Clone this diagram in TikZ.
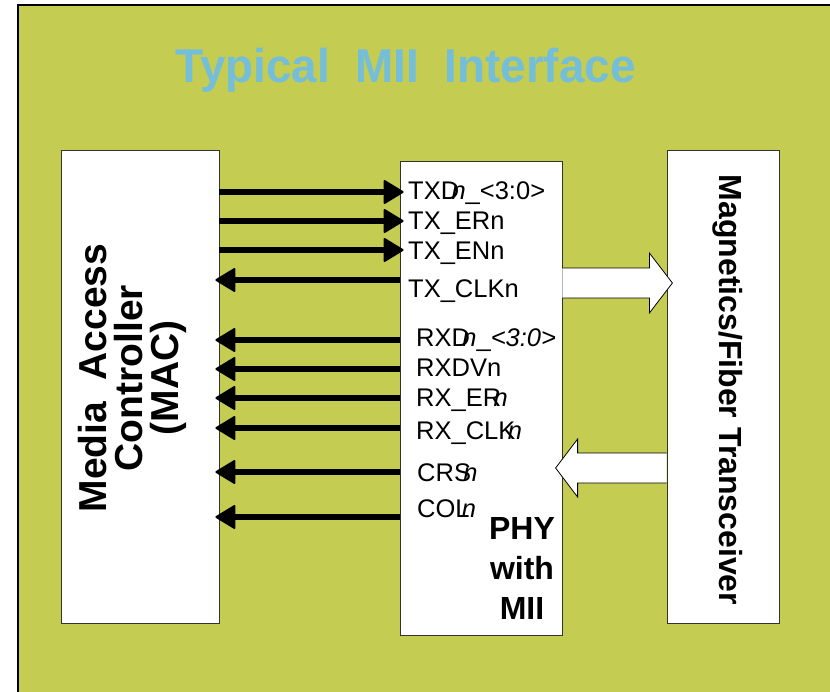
\documentclass[tikz,border=0pt]{standalone}
\usepackage{fontspec}
\setmainfont{Liberation Sans}
\newfontfamily\titlefont[FakeStretch=0.965]{Liberation Sans}
\usetikzlibrary{arrows.meta,positioning,calc}
\definecolor{bgolive}{RGB}{196,204,82}
\definecolor{titleblue}{RGB}{116,190,218}
\newcommand{\ovn}{\kern-0.3em\textit{n}}
\tikzset{
  blockbox/.style={draw=black!80, line width=0.8pt, fill=white, inner sep=0pt},
  sigtext/.style={anchor=base west, inner sep=0pt, font=\fontsize{25.5}{28}\selectfont},
  sigline/.style={line width=6pt, shorten >=-4pt,
    -{Triangle[length=21pt,width=25pt,line width=2pt,round]}},
  fatarrow/.style={draw=black, line width=0.8pt, fill=white},
}

\begin{document}
\begin{tikzpicture}[x=1pt,y=-1pt]
        \useasboundingbox (0,0) rectangle (830,691);
        \fill[bgolive] (18,5) rectangle (840,700);
        \draw[line width=1.5pt] (18,700) -- (18,5) -- (840,5);
        \node[titleblue, anchor=base, inner sep=0pt,
          font=\fontsize{47.5}{50}\titlefont\bfseries] (title) at (405.5,82)
          {Typical\ \ MII\ \ Interface};
        % the three blocks
        \node[blockbox, minimum width=158pt, minimum height=473pt] (mac) at (140,386.5) {};
        \node[blockbox, minimum width=162pt, minimum height=474pt] (phy) at (481,398) {};
        \node[blockbox, minimum width=112pt, minimum height=473pt] (xcvr) at (723,386.5) {};
        \node[rotate=90, align=center, inner sep=0pt,
          font=\fontsize{39}{36}\selectfont\bfseries] (maclbl) at (132,378)
          {Media\ \ Access\\Controller\\(MAC)};
        \node[rotate=-90, inner sep=0pt,
          font=\fontsize{32}{36}\selectfont\bfseries] (xcvrlbl) at (728,390)
          {Magnetics/Fiber Transceiver};
        \node[align=center, inner sep=0pt,
          font=\fontsize{32}{40}\selectfont\bfseries] (phylbl) at (522,568)
          {PHY\\with\\MII};
        % transmit signals
        \node[sigtext] (txd) at (408,199) {TXD\ovn\_<3:0>};
        \node[sigtext] (txer) at (408,229) {TX\_ERn};
        \node[sigtext] (txen) at (408,259) {TX\_ENn};
        \node[sigtext] (txclk) at (408,297) {TX\_CLKn};
        \draw[sigline] (mac.east |- 0,192) -- (phy.west |- 0,192);
        \draw[sigline] (mac.east |- 0,221) -- (phy.west |- 0,221);
        \draw[sigline] (mac.east |- 0,250) -- (phy.west |- 0,250);
        \draw[sigline] (phy.west |- 0,280) -- (mac.east |- 0,280);
        % receive signals
        \node[sigtext] (rxd) at (416,346) {RXD\ovn\_\textit{<3:0>}};
        \node[sigtext] (rxdv) at (416,376) {RXDVn};
        \node[sigtext] (rxer) at (416,406) {RX\_ER\ovn};
        \node[sigtext] (rxclk) at (416,439) {RX\_CLK\ovn};
        \node[sigtext] (crs) at (417,481) {CRS\ovn};
        \node[sigtext] (col) at (417,517) {COL\ovn};
        \draw[sigline] (phy.west |- 0,340) -- (mac.east |- 0,340);
        \draw[sigline] (phy.west |- 0,369) -- (mac.east |- 0,369);
        \draw[sigline] (phy.west |- 0,398) -- (mac.east |- 0,398);
        \draw[sigline] (phy.west |- 0,428) -- (mac.east |- 0,428);
        \draw[sigline] (phy.west |- 0,472) -- (mac.east |- 0,472);
        \draw[sigline] (phy.west |- 0,517) -- (mac.east |- 0,517);
        % line side
        \filldraw[fatarrow] (phy.east |- 0,268) -- ++(87,0) -- ++(0,-15)
          -- ++(23,30) -- ++(-23,30) -- ++(0,-15) -- (phy.east |- 0,298);
        \filldraw[fatarrow] (xcvr.west |- 0,453) -- ++(-89,0) -- ++(0,-14)
          -- ++(-22,29) -- ++(22,29) -- ++(0,-14) -- (xcvr.west |- 0,483);
      \end{tikzpicture}
\end{document}
